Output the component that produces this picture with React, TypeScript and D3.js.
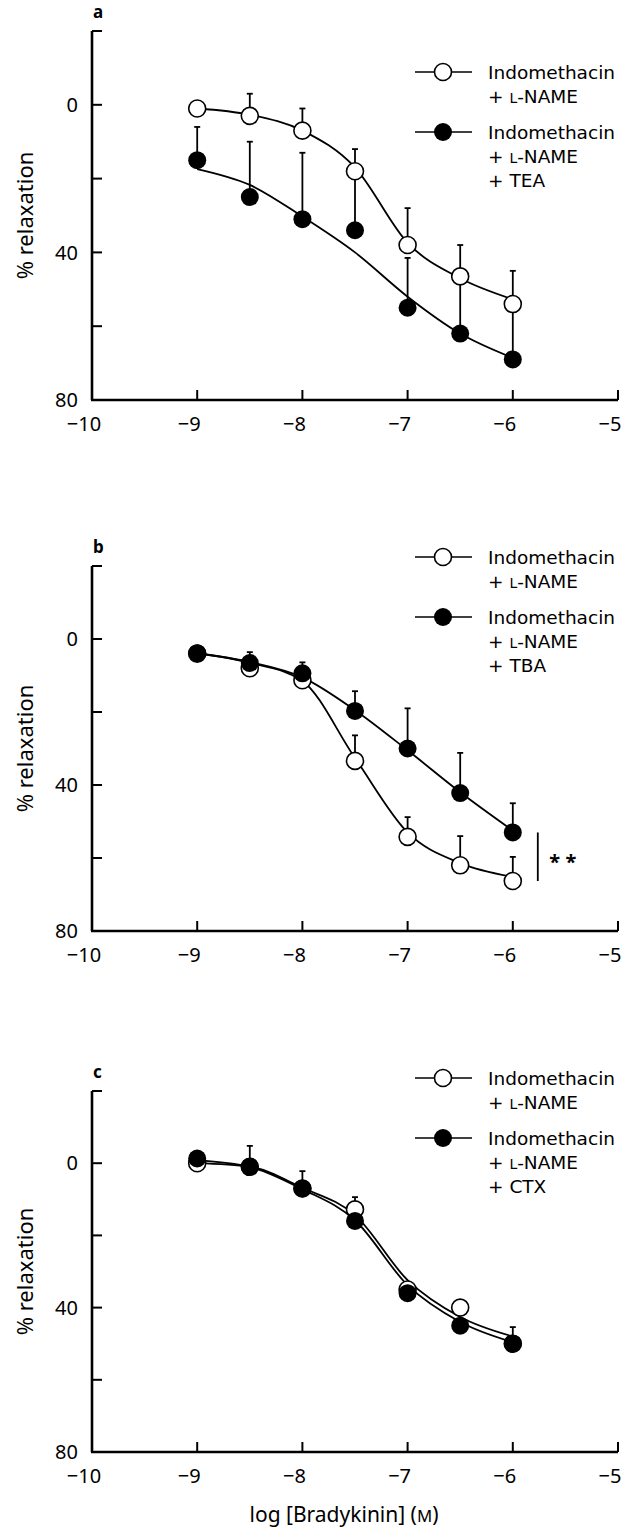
import React from 'react';
import * as d3 from 'd3';

// log [Bradykinin] doses (M)
const doses = [-9, -8.5, -8, -7.5, -7, -6.5, -6];
const xTicks = [-10, -9, -8, -7, -6, -5];
const yTicks = [-20, 0, 20, 40, 60, 80];
const yLabels = [0, 40, 80];

// panel a: indomethacin + L-NAME (open) vs + TEA (filled)
const aOpenMean = [1, 3, 7, 18, 38, 46.5, 54];
const aOpenSem = [2, 6, 6, 6, 10, 8.5, 9];
const aFilledMean = [15, 25, 31, 34, 55, 62, 69];
const aFilledSem = [9, 15, 18, 16, 13.5, 15, 16];
const aOpenFit = [1, 2.7, 7, 17, 37.4, 47, 52.7];
const aFilledFit = [17.4, 21.7, 30.3, 40, 52, 62, 68.6];

// panel b: + TBA
const bOpenMean = [4, 8, 11.3, 33.4, 54.2, 62, 66.3];
const bOpenSem = [0, 0, 0, 7, 5.4, 8, 6.6];
const bFilledMean = [3.9, 6.6, 9.4, 19.7, 30, 42.2, 53];
const bFilledSem = [0, 3, 3, 5.4, 11, 11, 8];
const bOpenFit = [3.9, 6.5, 11.5, 32.6, 53, 61.4, 65.2];
const bFilledFit = [3.9, 6.3, 10.5, 19.5, 30.5, 42, 52.5];

// panel c: + CTX
const cOpenMean = [0, 1, 7, 12.8, 35, 40, 50];
const cOpenSem = [0, 0, 0, 3.4, 0, 0, 0];
const cFilledMean = [-1.3, 1, 7, 16, 36, 45, 50];
const cFilledSem = [0, 5.8, 4.8, 0, 0, 0, 4.6];
const cOpenFit = [0, 1, 6.8, 14.4, 32.4, 42.6, 48];
const cFilledFit = [-0.8, 1, 7.2, 15.8, 33.8, 44, 49.6];

const font = "'Noto Sans', 'Open Sans', sans-serif";
const legendFont = "'DejaVu Sans', sans-serif";
const x = d3.scaleLinear().domain([-10, -5]).range([92, 618]);
const R = 8.5;

function LName() {
  return (
    <>
      <tspan>+ </tspan>
      <tspan fontSize="0.75em">L</tspan>
      <tspan>-NAME</tspan>
    </>
  );
}

function Panel({ label, top, bottom, legendY, drug, openMean, openSem, filledMean, filledSem, openFit, filledFit, sig }: any) {
  const y = d3.scaleLinear().domain([-20, 80]).range([top, bottom]);
  const line = d3.line<number>()
    .x((_, i) => x(doses[i]))
    .y(d => y(d))
    .curve(d3.curveMonotoneX);

  const errBars = (mean: number[], sem: number[]) => mean.map((m, i) => {
    if (!sem[i]) return null;
    const cx = x(doses[i]);
    const y1 = y(m - sem[i]);
    return (
      <g key={i}>
        <line x1={cx} x2={cx} y1={y(m)} y2={y1} stroke="#000" strokeWidth={1.8} />
        <line x1={cx - 3} x2={cx + 3} y1={y1} y2={y1} stroke="#000" strokeWidth={1.8} />
      </g>
    );
  });

  const lx = 443;
  const tx = 488;
  const lfs = 18.5;
  return (
    <g fontFamily={font}>
      <text x={93} y={top - 13} fontSize={17} fontWeight="bold">{label}</text>

      {/* axes */}
      <line x1={x(-10)} x2={x(-10)} y1={top} y2={bottom} stroke="#000" strokeWidth={2.6} />
      <line x1={x(-10) - 1} x2={x(-5)} y1={bottom} y2={bottom} stroke="#000" strokeWidth={2.6} />
      {yTicks.map(t => (
        <line key={t} x1={x(-10)} x2={x(-10) + 10} y1={y(t)} y2={y(t)} stroke="#000" strokeWidth={2} />
      ))}
      {yLabels.map(t => (
        <text key={t} x={x(-10) - 14} y={y(t)} dy="0.36em" textAnchor="end" fontSize={20}>{t}</text>
      ))}
      {xTicks.slice(1).map(t => (
        <line key={t} x1={x(t)} x2={x(t)} y1={bottom} y2={bottom - 10} stroke="#000" strokeWidth={2} />
      ))}
      {xTicks.map(t => (
        <text key={t} x={x(t) - 8} y={bottom + 31} textAnchor="middle" fontSize={20}>{'\u2212' + Math.abs(t)}</text>
      ))}
      <text transform={`translate(33,${y(30)}) rotate(-90)`} textAnchor="middle" fontSize={22}>% relaxation</text>

      {/* fitted curves */}
      <path d={line(openFit) || ''} fill="none" stroke="#000" strokeWidth={1.8} />
      <path d={line(filledFit) || ''} fill="none" stroke="#000" strokeWidth={1.8} />

      {errBars(filledMean, filledSem)}
      {errBars(openMean, openSem)}

      {openMean.map((m: number, i: number) => (
        <circle key={'o' + i} cx={x(doses[i])} cy={y(m)} r={R} fill="#fff" stroke="#000" strokeWidth={1.6} />
      ))}
      {filledMean.map((m: number, i: number) => (
        <circle key={'f' + i} cx={x(doses[i])} cy={y(m)} r={R + 0.5} fill="#000" />
      ))}

      {sig && (
        <g>
          <line x1={x(-6) + 25} x2={x(-6) + 25} y1={y(filledMean[6])} y2={y(openMean[6])} stroke="#000" strokeWidth={1.8} />
          <text x={x(-6) + 50} y={(y(filledMean[6]) + y(openMean[6])) / 2 + 12} textAnchor="middle" fontSize={20} fontWeight="bold">* *</text>
        </g>
      )}

      {/* legend */}
      <g fontFamily={legendFont} fontSize={lfs}>
        <line x1={lx - 28} x2={lx + 29} y1={legendY} y2={legendY} stroke="#000" strokeWidth={1.5} />
        <circle cx={lx} cy={legendY} r={R} fill="#fff" stroke="#000" strokeWidth={1.6} />
        <text x={tx} y={legendY + 7}>Indomethacin</text>
        <text x={tx} y={legendY + 31}><LName /></text>

        <line x1={lx - 28} x2={lx + 29} y1={legendY + 60} y2={legendY + 60} stroke="#000" strokeWidth={1.5} />
        <circle cx={lx} cy={legendY + 60} r={R + 0.5} fill="#000" />
        <text x={tx} y={legendY + 67}>Indomethacin</text>
        <text x={tx} y={legendY + 91}><LName /></text>
        <text x={tx} y={legendY + 115}>+ {drug}</text>
      </g>
    </g>
  );
}

export default function App() {
  return (
    <svg width={637} height={1532} style={{ position: 'absolute', left: 0, top: 0, background: '#fff' }}>
      <rect width={637} height={1532} fill="#fff" />
      <Panel label="a" top={31} bottom={400} legendY={72} drug="TEA"
        openMean={aOpenMean} openSem={aOpenSem} filledMean={aFilledMean} filledSem={aFilledSem}
        openFit={aOpenFit} filledFit={aFilledFit} />
      <Panel label="b" top={566} bottom={931} legendY={557} drug="TBA"
        openMean={bOpenMean} openSem={bOpenSem} filledMean={bFilledMean} filledSem={bFilledSem}
        openFit={bOpenFit} filledFit={bFilledFit} sig />
      <Panel label="c" top={1091} bottom={1452} legendY={1078} drug="CTX"
        openMean={cOpenMean} openSem={cOpenSem} filledMean={cFilledMean} filledSem={cFilledSem}
        openFit={cOpenFit} filledFit={cFilledFit} />
      <text x={344} y={1522} textAnchor="middle" fontSize={21} fontFamily={font}>
        log [Bradykinin] (<tspan fontSize="0.8em">M</tspan>)
      </text>
    </svg>
  );
}
